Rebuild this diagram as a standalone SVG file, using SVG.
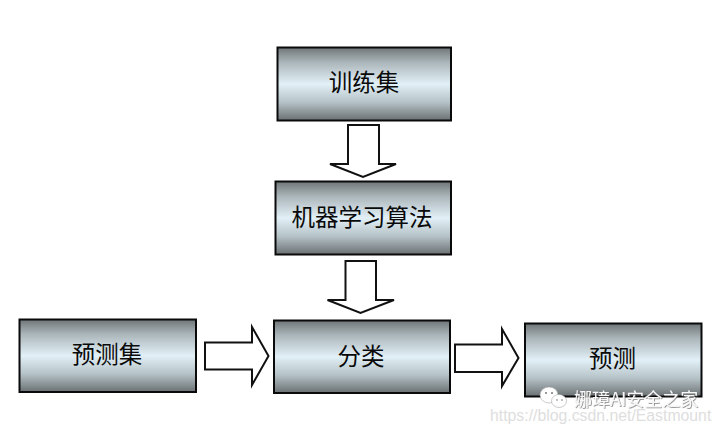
<svg xmlns="http://www.w3.org/2000/svg" width="721" height="432" viewBox="0 0 721 432">
<style>
.box{fill:url(#metal);stroke:#0a0a0a;stroke-width:2}
.arrow{fill:#fff;stroke:#111;stroke-width:2;stroke-linejoin:miter}
.label{font-family:"Noto Sans CJK SC","Liberation Sans",sans-serif;font-size:23.500px;fill:#0a0a0a;text-anchor:middle}
.url{font-family:"Liberation Sans",Arial,sans-serif;font-size:15.800px;fill:#dedede}
.wm{font-family:"Noto Sans CJK SC","Liberation Sans",sans-serif;font-size:18px;fill:#f8f8f8;filter:url(#shadow)}
</style>
<defs>
<linearGradient id="metal" x1="0" y1="0" x2="0" y2="1">
<stop offset="0" stop-color="#6f7577"/>
<stop offset=".2" stop-color="#aab5b9"/>
<stop offset=".5" stop-color="#e2f0f7"/>
<stop offset=".75" stop-color="#b5c2c7"/>
<stop offset="1" stop-color="#6a7072"/>
</linearGradient>
<filter id="shadow" x="-5%" y="-20%" width="110%" height="140%">
<feDropShadow dx=".8" dy=".8" stdDeviation=".4" flood-color="#666" flood-opacity=".8"/>
</filter>
</defs>
<rect width="721" height="432" fill="#fff"/>
<g id="connectors">
<polygon class="arrow" points="348,125 379,125 379,164 396,164 363,177 330,164 348,164"/>
<polygon class="arrow" points="345.500,261 376,261 376,300 394,300 360.500,313 327.500,300 345.500,300"/>
<polygon class="arrow" points="205,342.500 252,342.500 252,327 268.500,356 252,385 252,369.500 205,369.500"/>
<polygon class="arrow" points="455,344.500 502,344.500 502,329 518.500,358 502,386 502,372 455,372"/>
</g>
<g id="node-train"><rect class="box" x="277.500" y="47.500" width="173.500" height="73"/><text class="label" x="364" y="91">训练集</text></g>
<g id="node-algo"><rect class="box" x="275.500" y="181.500" width="175.500" height="73"/><text class="label" x="362" y="226">机器学习算法</text></g>
<g id="node-testset"><rect class="box" x="19.500" y="319.500" width="176.500" height="72.500"/><text class="label" x="107" y="363">预测集</text></g>
<g id="node-classify"><rect class="box" x="274" y="320.500" width="176" height="72.500"/><text class="label" x="361" y="365">分类</text></g>
<g id="node-predict"><rect class="box" x="525" y="323.500" width="176.500" height="73"/><text class="label" x="612.500" y="367">预测</text></g>
<g id="watermark">
<text class="url" x="490" y="421">https://blog.csdn.net/Eastmount</text>
<ellipse cx="549" cy="395" rx="9" ry="8" fill="#fff" stroke="#999" stroke-width=".5"/>
<ellipse cx="559" cy="401" rx="7.500" ry="6.500" fill="#fff" stroke="#999" stroke-width=".5"/>
<circle cx="546" cy="393" r="1" fill="#777"/><circle cx="552" cy="393" r="1" fill="#777"/>
<circle cx="557" cy="400" r=".8" fill="#777"/><circle cx="562" cy="400" r=".8" fill="#777"/>
<text class="wm" x="574" y="406">娜璋AI安全之家</text>
</g>
</svg>
